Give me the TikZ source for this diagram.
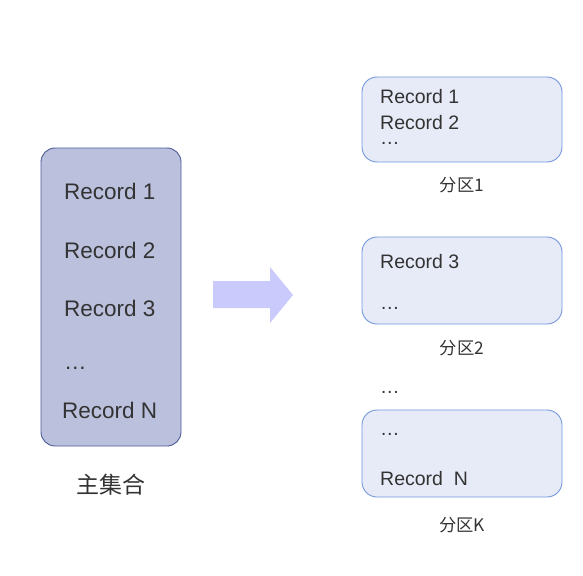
\documentclass[tikz,border=0pt]{standalone}
\usepackage{fontspec}
\setmainfont{Liberation Sans}
\newfontfamily\cjk{Noto Sans CJK SC}
\definecolor{mainfill}{HTML}{BBC1DD}
\definecolor{maindraw}{HTML}{4A5A96}
\definecolor{partfill}{HTML}{E7EBF8}
\definecolor{partdraw}{HTML}{7396DC}
\definecolor{arrowfill}{HTML}{CACAFC}
\definecolor{txt}{HTML}{333333}
\begin{document}
\begin{tikzpicture}[x=1pt,y=-1pt,
  mainbox/.style={draw=maindraw, fill=mainfill, line width=0.9pt, rounded corners=14pt},
  partbox/.style={draw=partdraw, fill=partfill, line width=0.9pt, rounded corners=15pt},
  bigrec/.style={anchor=base west, inner sep=0pt, text=txt, font=\fontsize{22.5}{27}\selectfont},
  smallrec/.style={anchor=base west, inner sep=0pt, text=txt, font=\fontsize{19.5}{23}\selectfont},
  biglabel/.style={inner sep=0pt, text=txt, font=\cjk\fontsize{23}{27}\selectfont},
  smalllabel/.style={inner sep=0pt, text=txt, font=\cjk\fontsize{17.3}{21}\selectfont}]
\useasboundingbox (0,0) rectangle (583,575);
% main set
\draw[mainbox] (41,148) rectangle (181,446);
\node[bigrec] (m1) at (64,199) {Record 1};
\node[bigrec] (m2) at (64,258) {Record 2};
\node[bigrec] (m3) at (64,316) {Record 3};
\node[bigrec] (md) at (64,369) {\dots};
\node[bigrec] (mn) at (62,418) {Record N};
\node[biglabel] (mainlabel) at (111,485) {主集合};
% arrow
\fill[arrowfill] (213,281) -- (270,281) -- (270,267) -- (293,295) -- (270,323) -- (270,308) -- (213,308) -- cycle;
% partition 1
\draw[partbox] (362,77) rectangle (562,162);
\node[smallrec] (a1) at (380,104) {Record 1};
\node[smallrec] (a2) at (380,129) {Record 2};
\node[smallrec] (a3) at (380,144) {\dots};
\node[smalllabel] (p1) at (462,185) {分区1};
% partition 2
\draw[partbox] (362,237) rectangle (562,324);
\node[smallrec] (b1) at (380,268) {Record 3};
\node[smallrec] (b2) at (380,309) {\dots};
\node[smalllabel] (p2) at (462,348) {分区2};
% between
\node[smallrec] (gap) at (380,393) {\dots};
% partition K
\draw[partbox] (362,410) rectangle (562,497);
\node[smallrec] (c1) at (380,435) {\dots};
\node[smallrec] (c2) at (380,485) {Record\ \ N};
\node[smalllabel] (pk) at (462,525) {分区K};
\end{tikzpicture}
\end{document}
